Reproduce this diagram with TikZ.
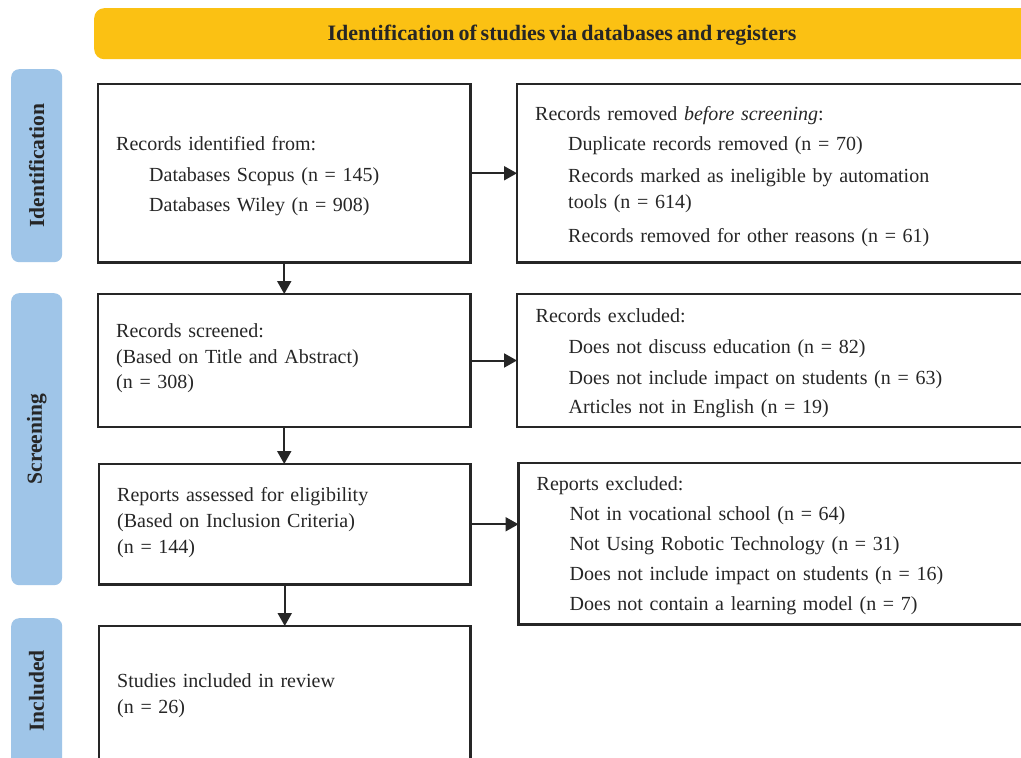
\documentclass[tikz,border=0pt]{standalone}
\usepackage{fontspec}
\setmainfont{Liberation Serif}[WordSpace=0.7]
\usetikzlibrary{arrows.meta}
\definecolor{bannerfill}{HTML}{FBC113}
\definecolor{tabfill}{HTML}{9FC5E8}
\definecolor{ink}{HTML}{262626}
\begin{document}
\begin{tikzpicture}[x=1pt,y=-1pt,
  stagebox/.style={draw=ink,line width=2.2pt,fill=white,anchor=north west,inner sep=0pt,outer sep=0pt},
  boxtext/.style={anchor=base west,inner sep=0pt,text width=470pt,align=left,text=ink,font=\fontsize{20}{26}\selectfont},
  tabshape/.style={fill=tabfill,rounded corners=8pt,anchor=north west,inner sep=0pt,minimum width=51pt},
  tablabel/.style={rotate=90,text=ink,font=\fontsize{21.5}{26}\selectfont\bfseries,inner sep=0pt},
  flow/.style={draw=ink,line width=2pt,-{Triangle[length=13pt,width=14pt]}}]
\clip (0,0) rectangle (1021,758);
\fill[white] (0,0) rectangle (1021,758);

% banner
\node[fill=bannerfill,rounded corners=10pt,anchor=north west,minimum width=945pt,minimum height=51pt,inner sep=0pt] (banner) at (94,8) {};
\node[anchor=base,text=ink,font=\fontsize{22}{26}\selectfont\bfseries,inner sep=0pt] (title) at (562,40) {Identification of studies via databases and registers};

% stage tabs
\node[tabshape,minimum height=193pt] (tabid) at (11,69) {};
\node[tablabel] (lblid) at (tabid.center) {Identification};
\node[tabshape,minimum height=292pt] (tabsc) at (11,293) {};
\node[tablabel] (lblsc) at (tabsc.center) {Screening};
\node[tabshape,minimum height=150pt] (tabin) at (11,618) {};
\node[tablabel] (lblin) at (36.5,691) {Included};

% boxes
\node[stagebox,minimum width=372.5pt,minimum height=178.5pt] (b1) at (98,84) {};
\node[stagebox,minimum width=530pt,minimum height=178.5pt] (r1) at (517,84) {};
\node[stagebox,minimum width=372.5pt,minimum height=133pt] (b2) at (98,294) {};
\node[stagebox,minimum width=530pt,minimum height=133pt] (r2) at (517,294) {};
\node[stagebox,minimum width=371.5pt,minimum height=120.5pt] (b3) at (99,464) {};
\node[stagebox,minimum width=530pt,minimum height=161.5pt] (r3) at (518.5,463) {};
\node[stagebox,minimum width=371.5pt,minimum height=200pt] (b4) at (99,626) {};

% texts
\node[boxtext] (t1) at (116,150.5) {Records identified from:\\[4.5pt]\hspace*{33pt}Databases Scopus (n = 145)\\[4pt]\hspace*{33pt}Databases Wiley (n = 908)};
\node[boxtext] (t2) at (535,120.3) {Records removed \textit{before screening}:\\[4pt]\hspace*{33pt}Duplicate records removed (n = 70)\\[5.7pt]\hspace*{33pt}Records marked as ineligible by automation\\[0.7pt]\hspace*{33pt}tools (n = 614)\\[7.3pt]\hspace*{33pt}Records removed for other reasons (n = 61)};
\node[boxtext] (t3) at (116,337) {Records screened:\\(Based on Title and Abstract)\\[-1pt](n = 308)};
\node[boxtext] (t4) at (535.5,322.3) {Records excluded:\\[5pt]\hspace*{33pt}Does not discuss education (n = 82)\\[5pt]\hspace*{33pt}Does not include impact on students (n = 63)\\[3pt]\hspace*{33pt}Articles not in English (n = 19)};
\node[boxtext] (t5) at (117,501.7) {Reports assessed for eligibility\\(Based on Inclusion Criteria)\\[-0.4pt](n = 144)};
\node[boxtext] (t6) at (536.5,490) {Reports excluded:\\[4pt]\hspace*{33pt}Not in vocational school (n = 64)\\[4pt]\hspace*{33pt}Not Using Robotic Technology (n = 31)\\[4pt]\hspace*{33pt}Does not include impact on students (n = 16)\\[4pt]\hspace*{33pt}Does not contain a learning model (n = 7)};
\node[boxtext] (t7) at (117,687.3) {Studies included in review\\(n = 26)};

% connectors
\draw[flow] (b1.south) -- (b1.south |- b2.north);
\draw[flow] (b2.south) -- (b2.south |- b3.north);
\draw[flow] (b3.south) -- (b3.south |- b4.north);
\draw[flow] (b1.east) -- (b1.east -| r1.west);
\draw[flow] (b2.east) -- (b2.east -| r2.west);
\draw[flow] (b3.east) -- (b3.east -| r3.west);
\end{tikzpicture}
\end{document}
